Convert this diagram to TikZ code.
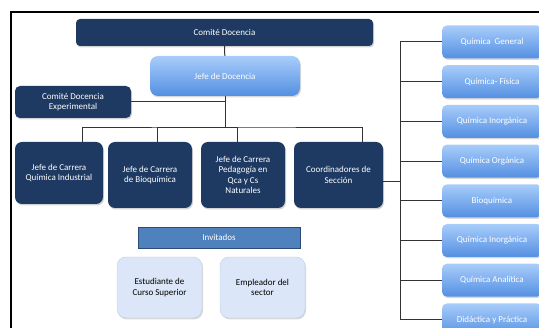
\documentclass[tikz,border=0pt]{standalone}
\usepackage{fontspec}
\setmainfont{Carlito}
\usetikzlibrary{positioning,calc,shadows}

\definecolor{navy}{RGB}{30,58,98}
\definecolor{skytop}{RGB}{168,205,250}
\definecolor{skybot}{RGB}{84,143,226}
\definecolor{invfill}{RGB}{79,129,189}
\definecolor{invline}{RGB}{44,74,120}
\definecolor{guestfill}{RGB}{219,231,248}
\definecolor{guestline}{RGB}{188,206,232}

\tikzset{
  darkbox/.style={fill=navy, text=white, rounded corners=7pt, align=center, inner sep=2pt,
    font=\fontsize{9}{10.5}\selectfont,
    drop shadow={opacity=.35, shadow xshift=1pt, shadow yshift=-1.5pt}},
  skybox/.style={top color=skytop, bottom color=skybot, text=white, rounded corners=5pt,
    align=center, minimum width=100, minimum height=33, inner sep=2pt,
    font=\fontsize{9}{10.5}\selectfont,
    drop shadow={opacity=.3, shadow xshift=1pt, shadow yshift=-1.5pt}},
  guestbox/.style={fill=guestfill, draw=guestline, rounded corners=9pt, align=center,
    minimum width=85, minimum height=61, inner sep=2pt,
    font=\fontsize{9}{10.5}\selectfont,
    drop shadow={opacity=.3, shadow xshift=1pt, shadow yshift=-1.5pt}},
  link/.style={draw=black!80, line width=1pt}
}

\begin{document}
\begin{tikzpicture}[x=1pt, y=-1pt, node distance=6pt]
\useasboundingbox (0,0) rectangle (539,328);
\clip (0,0) rectangle (539,328);

% marco
\draw[line width=1.5pt] (11,340) -- (11,12) -- (560,12);

% direccion
\node[darkbox, rounded corners=4pt, minimum width=297, minimum height=27] (comite) at (224.5,32.5) {Comité Docencia};
\node[skybox, rounded corners=8pt, minimum width=150, minimum height=40] (jefe) at (225,76) {Jefe de Docencia};
\node[darkbox, rounded corners=5pt, minimum width=116, minimum height=32] (exper) at (73,102) {Comité Docencia\\Experimental};

% jefes de carrera
\node[darkbox, minimum width=88, minimum height=62] (jc1) at (59,173) {Jefe de Carrera\\Química Industrial};
\node[darkbox, minimum width=84, minimum height=66] (jc2) at (150,175) {Jefe de Carrera\\de Bioquímica};
\node[darkbox, minimum width=84, minimum height=66] (jc3) at (243,175) {Jefe de Carrera\\Pedagogía en\\Qca y Cs\\Naturales};
\node[darkbox, minimum width=89, minimum height=66] (coord) at (338.5,175) {Coordinadores de\\Sección};

% secciones
\node[skybox] (s1) at (492,42) {Química\ \ General};
\node[skybox, below=6.3pt of s1] (s2) {Química- Física};
\node[skybox, below=6.3pt of s2] (s3) {Química Inorgánica};
\node[skybox, below=6.3pt of s3] (s4) {Química Orgánica};
\node[skybox, below=6.3pt of s4] (s5) {Bioquímica};
\node[skybox, below=6.3pt of s5] (s6) {Química Inorgánica};
\node[skybox, below=6.3pt of s6] (s7) {Química Analítica};
\node[skybox, below=6.3pt of s7] (s8) {Didáctica y Práctica};

% invitados
\node[fill=invfill, draw=invline, text=white, minimum width=162, minimum height=21,
  font=\fontsize{9}{10.5}\selectfont] (inv) at (219,237.5) {Invitados};
\node[guestbox] (est) at (159.5,287.5) {Estudiante de\\Curso Superior};
\node[guestbox] (emp) at (262.5,287.5) {Empleador del\\sector};

% conectores
\coordinate (bar) at (225,128);
\coordinate (spine) at (400,182);
\draw[link] (comite) -- (jefe);
\draw[link] (jefe) -- (bar);
\draw[link] (exper.east) -- (exper.east -| bar);
\draw[link] ([xshift=23]jc1.north) |- (bar) -| ([xshift=24]coord.north);
\draw[link] ([xshift=7]jc2.north) |- (bar);
\draw[link] ([xshift=-6]jc3.north) |- (bar);
\draw[link] ([yshift=-7]coord.east) -- (spine);
\foreach \s in {s1,s2,s3,s4,s5,s6,s7,s8}
  \draw[link] (\s.west) -| (spine);
\end{tikzpicture}
\end{document}
